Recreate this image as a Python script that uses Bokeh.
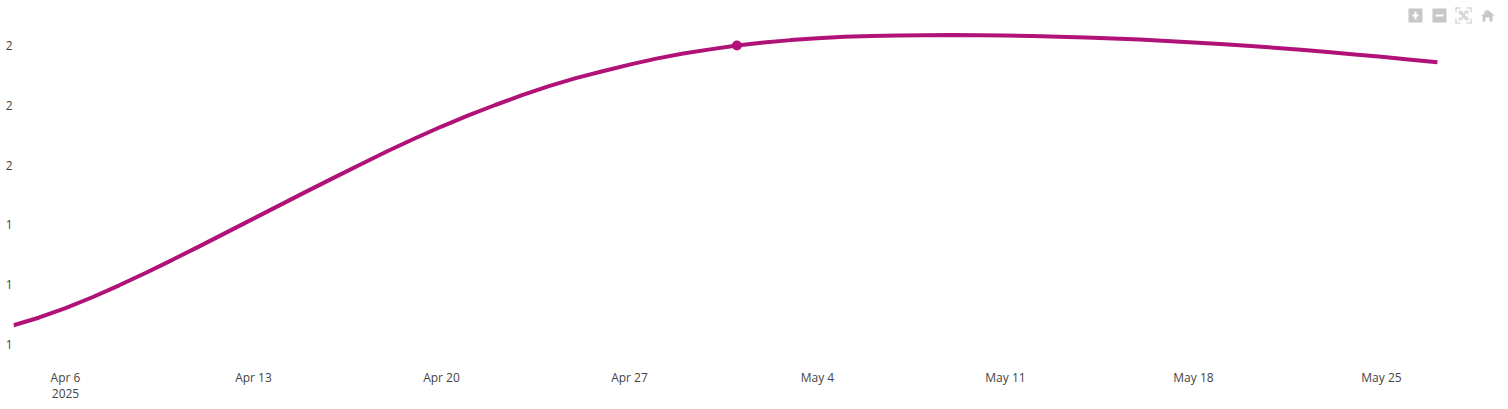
import pandas as pd
from bokeh.plotting import figure
from bokeh.embed import file_html
from bokeh.resources import INLINE
from bokeh.models import FixedTicker, Range1d, DatetimeAxis

# --- data ---
dates = ["2025-04-04 01:32", "2025-04-05", "2025-04-06", "2025-04-07", "2025-04-08", "2025-04-09", "2025-04-10",
         "2025-04-11", "2025-04-12", "2025-04-13", "2025-04-14", "2025-04-15", "2025-04-16", "2025-04-17",
         "2025-04-18", "2025-04-19", "2025-04-20", "2025-04-21", "2025-04-22", "2025-04-23", "2025-04-24",
         "2025-04-25", "2025-04-26", "2025-04-27", "2025-04-28", "2025-04-29", "2025-04-30", "2025-05-01",
         "2025-05-02", "2025-05-03", "2025-05-04", "2025-05-05", "2025-05-06", "2025-05-07", "2025-05-08",
         "2025-05-09", "2025-05-10", "2025-05-11", "2025-05-12", "2025-05-13", "2025-05-14", "2025-05-15",
         "2025-05-16", "2025-05-17", "2025-05-18", "2025-05-19", "2025-05-20", "2025-05-21", "2025-05-22",
         "2025-05-23", "2025-05-24", "2025-05-25", "2025-05-26", "2025-05-27 02:00"]
values = [1.0645, 1.0896, 1.122, 1.158, 1.198, 1.240, 1.284,
          1.329, 1.375, 1.421, 1.467, 1.513, 1.558, 1.603,
          1.647, 1.689, 1.729, 1.766, 1.801, 1.834, 1.864,
          1.891, 1.914, 1.936, 1.956, 1.973, 1.987, 2.000,
          2.010, 2.018, 2.0245, 2.029, 2.032, 2.0335, 2.0345,
          2.0348, 2.0345, 2.0335, 2.0318, 2.0296, 2.027, 2.0238,
          2.0198, 2.0153, 2.0103, 2.0048, 1.9989, 1.9925, 1.9855,
          1.978, 1.970, 1.962, 1.9535, 1.944]
marker_date = ["2025-05-01"]
marker_value = [2.000]

x_tick_dates = ["2025-04-06", "2025-04-13", "2025-04-20", "2025-04-27",
                "2025-05-04", "2025-05-11", "2025-05-18", "2025-05-25"]
x_tick_labels = ["Apr 6", "Apr 13", "Apr 20", "Apr 27", "May 4", "May 11", "May 18", "May 25"]
year_tick_date = ["2025-04-06"]
year_tick_label = ["2025"]
y_ticks = [1.0, 1.2, 1.4, 1.6, 1.8, 2.0]
y_tick_labels = ["1", "1", "1", "2", "2", "2"]

# --- styles ---
LINE = "#b01277"
TEXT = "#444444"
ICON = "#c7c7c7"
FONT = "Open Sans"

x = pd.to_datetime(dates, format="ISO8601")
x_ms = [t.timestamp() * 1000 for t in pd.to_datetime(x_tick_dates)]
year_ms = [t.timestamp() * 1000 for t in pd.to_datetime(year_tick_date)]

p = figure(width=1508, height=409, output_backend="svg", toolbar_location=None,
           x_axis_type="datetime",
           x_range=Range1d(pd.Timestamp("2025-04-04 01:32"), pd.Timestamp("2025-05-29 17:30")),
           y_range=Range1d(0.9465, 2.1505),
           min_border_left=13, min_border_right=0, min_border_top=0, min_border_bottom=49,
           outline_line_color=None, background_fill_color="white")

year_axis = DatetimeAxis(ticker=FixedTicker(ticks=year_ms),
                         major_label_overrides=dict(zip(year_ms, year_tick_label)),
                         major_label_standoff=0)
p.add_layout(year_axis, "below")

p.grid.visible = False
for ax in (p.xaxis[0], p.yaxis[0], year_axis):
    ax.axis_line_color = None
    ax.major_tick_line_color = None
    ax.minor_tick_line_color = None
    ax.major_tick_out = 0
    ax.major_tick_in = 0
    ax.minor_tick_out = 0
    ax.minor_tick_in = 0
    ax.major_label_text_font = FONT
    ax.major_label_text_font_size = "12px"
    ax.major_label_text_color = TEXT

p.xaxis[0].ticker = FixedTicker(ticks=x_ms)
p.xaxis[0].major_label_overrides = dict(zip(x_ms, x_tick_labels))
p.xaxis[0].major_label_standoff = 8
p.yaxis[0].ticker = FixedTicker(ticks=y_ticks)
p.yaxis[0].major_label_overrides = dict(zip(y_ticks, y_tick_labels))
p.yaxis[0].major_label_standoff = 1

p.line(x, values, line_color=LINE, line_width=4)
p.scatter(pd.to_datetime(marker_date), marker_value, size=10, fill_color=LINE, line_color=LINE, line_width=0)

# --- modebar icons, on pixel ranges that match the page ---
p.extra_x_ranges["px"] = Range1d(13, 1508)
p.extra_y_ranges["px"] = Range1d(360, 0)


def box(l, t, r, b, color=ICON):
    p.quad(left=[l], right=[r], top=[t], bottom=[b], fill_color=color, line_color=None,
           x_range_name="px", y_range_name="px")


def poly(xs, ys, color=ICON):
    p.patch(xs, ys, fill_color=color, line_color=None, x_range_name="px", y_range_name="px")


box(1408, 8, 1422, 22)
box(1412, 14, 1418, 16, "white")
box(1414, 11, 1416, 19, "white")
box(1432, 8, 1446, 22)
box(1435, 14, 1443, 16, "white")
# autoscale: corner brackets
for (a, b, c, d) in [(1455, 7, 1460, 8), (1455, 7, 1456, 12), (1466, 7, 1471, 8), (1470, 7, 1471, 12),
                     (1455, 22, 1460, 23), (1455, 18, 1456, 23), (1466, 22, 1471, 23), (1470, 18, 1471, 23)]:
    box(a, b, c, d)
poly([1458, 1461, 1463, 1465, 1468, 1468, 1465, 1464.5, 1468, 1468, 1465, 1463, 1461, 1458, 1458, 1461, 1461.5, 1458],
     [10, 10, 12.5, 10, 10, 13, 13, 15, 17, 20, 20, 17.5, 20, 20, 17, 17, 15, 13], "#d8d8d8")
# home
poly([1484, 1484, 1485.5, 1485.5, 1487, 1494, 1492, 1492, 1489, 1489, 1485, 1485, 1482, 1482, 1480],
     [13, 10, 10, 11.5, 9, 15, 15, 21, 21, 17, 17, 21, 21, 15, 15])

open("out.html", "w").write(file_html(p, INLINE))
